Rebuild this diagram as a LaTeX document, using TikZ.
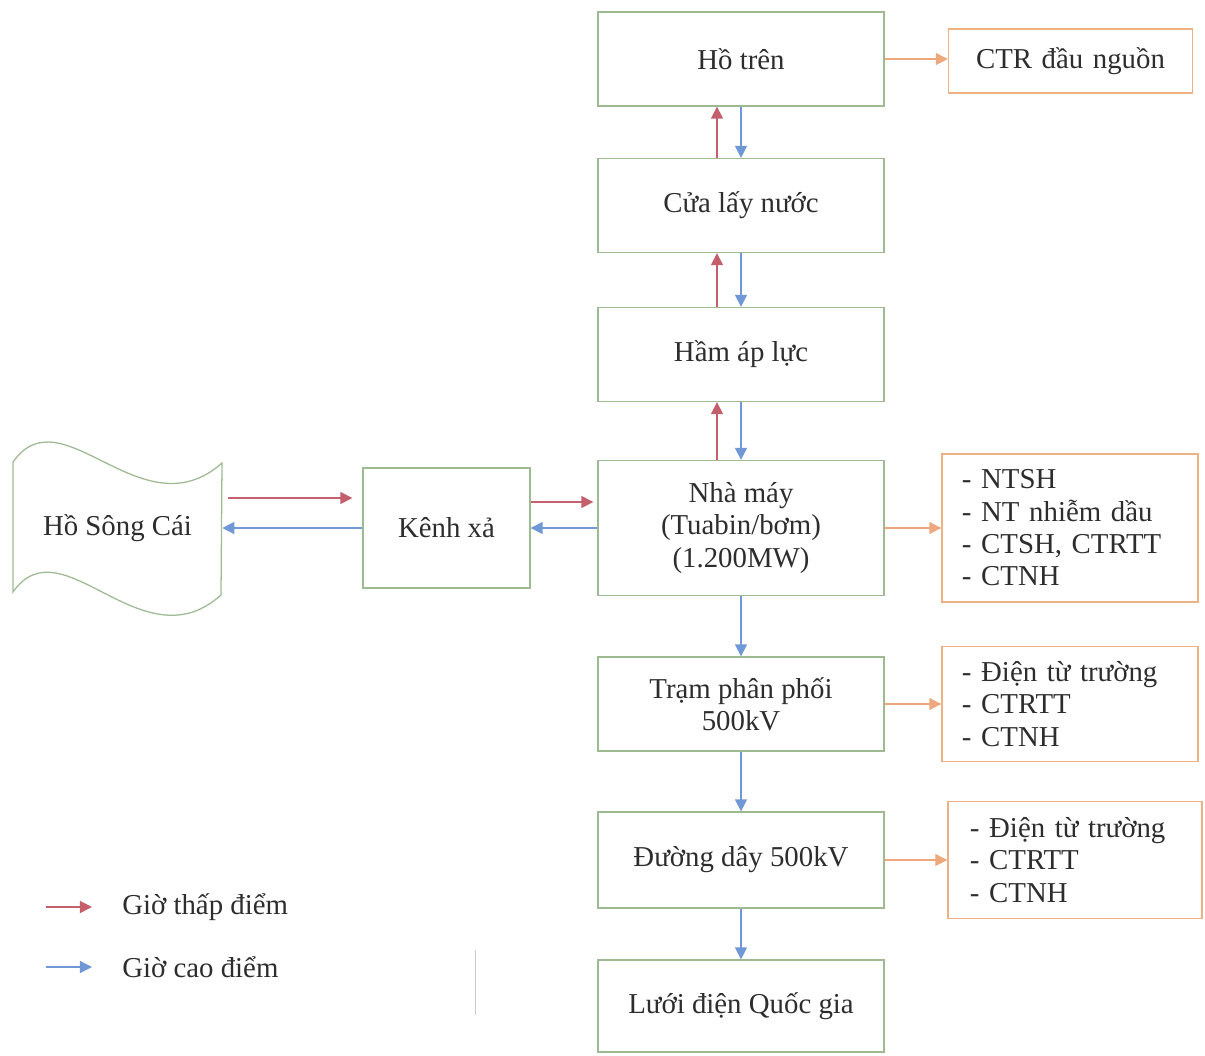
\documentclass[tikz,border=0pt]{standalone}
\usepackage{fontspec}
\setmainfont{Liberation Serif}
\usepackage{tikz}
\usetikzlibrary{arrows.meta}
\definecolor{boxgreen}{RGB}{158,186,146}
\definecolor{boxorange}{RGB}{236,178,132}
\definecolor{lowred}{RGB}{196,96,108}
\definecolor{highblue}{RGB}{112,152,214}
\definecolor{effarr}{RGB}{238,168,126}
\definecolor{inkgray}{RGB}{45,45,45}
\tikzset{
  every picture/.style={font={\fontsize{20.5}{23}\selectfont}, >={Triangle[length=0.3cm,width=0.3cm]}},
  every node/.style={text=inkgray}}

\begin{document}
\begin{tikzpicture}[x=0.025cm, y=-0.025cm,
    stage/.style={
      draw=boxgreen, line width=0.9pt,
      align=center,
      minimum width=7.15cm, minimum height=2.35cm},
    effect/.style={
      draw=boxorange, line width=0.9pt,
      align=left, text width=5.4cm,
      inner xsep=0.5cm,
      minimum height=2.9cm},
    lowarr/.style={->, draw=lowred, fill=lowred, line width=1pt},
    higharr/.style={->, draw=highblue, fill=highblue, line width=1pt},
    effarrow/.style={->, draw=effarr, fill=effarr, line width=0.8pt}]

    \useasboundingbox (0,0) rectangle (1205,1055);

    % main chain
    \node[stage] (hotren) at (741,59) {Hồ trên};
    \node[stage] (cualay) at (741,205.5) {Cửa lấy nước};
    \node[stage] (ham) at (741,354.5) {Hầm áp lực};
    \node[stage, minimum height=3.375cm] (nhamay) at (741,528)
    {Nhà máy\\(Tuabin/bơm)\\(1.200MW)};
    \node[stage] (tram) at (741,704) {Trạm phân phối\\500kV};
    \node[stage, minimum height=2.4cm] (duongday) at (741,860) {Đường dây 500kV};
    \node[stage, minimum height=2.3cm] (luoi) at (741,1006) {Lưới điện Quốc gia};

    \node[stage, minimum width=4.175cm, minimum height=3cm] (kenhxa) at (446.5,528) {Kênh xả};

    % lake on the left
    \node[minimum width=5.225cm, minimum height=3.25cm] (hosong) at (117.5,528) {Hồ Sông Cái};
    \draw[boxgreen, line width=0.9pt] (13,462) .. controls (62,392) and (142,534) .. (222,463)
      -- (221,595) .. controls (142,666) and (62,522) .. (13,592) -- cycle;

    % emissions
    \node[effect, text width=5.3cm, align=center, minimum height=1.6cm,
      inner xsep=0.4cm] (ctr) at (1070.5,61) {CTR đầu nguồn};
    \node[effect, minimum height=3.7cm] (chat1) at (1070,528)
    {- NTSH\\- NT nhiễm dầu\\- CTSH, CTRTT\\- CTNH};
    \node[effect, minimum height=2.875cm] (chat2) at (1070,704)
    {- Điện từ trường\\- CTRTT\\- CTNH};
    \node[effect, text width=5.25cm, inner xsep=0.55cm, minimum height=2.925cm] (chat3) at (1075,860)
    {- Điện từ trường\\- CTRTT\\- CTNH};

    % pumping up (red) and generating down (blue)
    \draw[lowarr] ([xshift=-0.6cm]cualay.north) -- ([xshift=-0.6cm]hotren.south);
    \draw[lowarr] ([xshift=-0.6cm]ham.north) -- ([xshift=-0.6cm]cualay.south);
    \draw[lowarr] ([xshift=-0.6cm]nhamay.north) -- ([xshift=-0.6cm]ham.south);
    \draw[higharr] (hotren.south) -- (cualay.north);
    \draw[higharr] (cualay.south) -- (ham.north);
    \draw[higharr] (ham.south) -- (nhamay.north);
    \draw[higharr] (nhamay.south) -- (tram.north);
    \draw[higharr] (tram.south) -- (duongday.north);
    \draw[higharr] (duongday.south) -- (luoi.north);

    \draw[lowarr, shorten <=0.15cm, shorten >=0.25cm]
      ([yshift=0.75cm]hosong.east) -- ([yshift=0.75cm]hosong.east -| kenhxa.west);
    \draw[higharr] (kenhxa.west) -- (hosong.east);
    \draw[lowarr, shorten >=0.1cm]
      ([yshift=0.65cm]kenhxa.east) -- ([yshift=0.65cm]kenhxa.east -| nhamay.west);
    \draw[higharr] (nhamay.west) -- (kenhxa.east);

    \draw[effarrow] (hotren.east) -- (hotren.east -| ctr.west);
    \draw[effarrow] (nhamay.east) -- (chat1.west);
    \draw[effarrow] (tram.east) -- (chat2.west);
    \draw[effarrow] (duongday.east) -- (chat3.west);

    % legend
    \node[anchor=west, inner sep=0pt] (lowtxt) at (122,907) {Giờ thấp điểm};
    \node[anchor=west, inner sep=0pt] (hightxt) at (122,967) {Giờ cao điểm};
    \coordinate (lowstart) at (46,907);
    \coordinate (highstart) at (46,967);
    \draw[lowarr, shorten >=0.75cm] (lowstart) -- (lowtxt.west);
    \draw[higharr, shorten >=0.75cm] (highstart) -- (hightxt.west);

    \draw[black!20, line width=0.6pt] (475,950) -- (475,1015);
\end{tikzpicture}
\end{document}
